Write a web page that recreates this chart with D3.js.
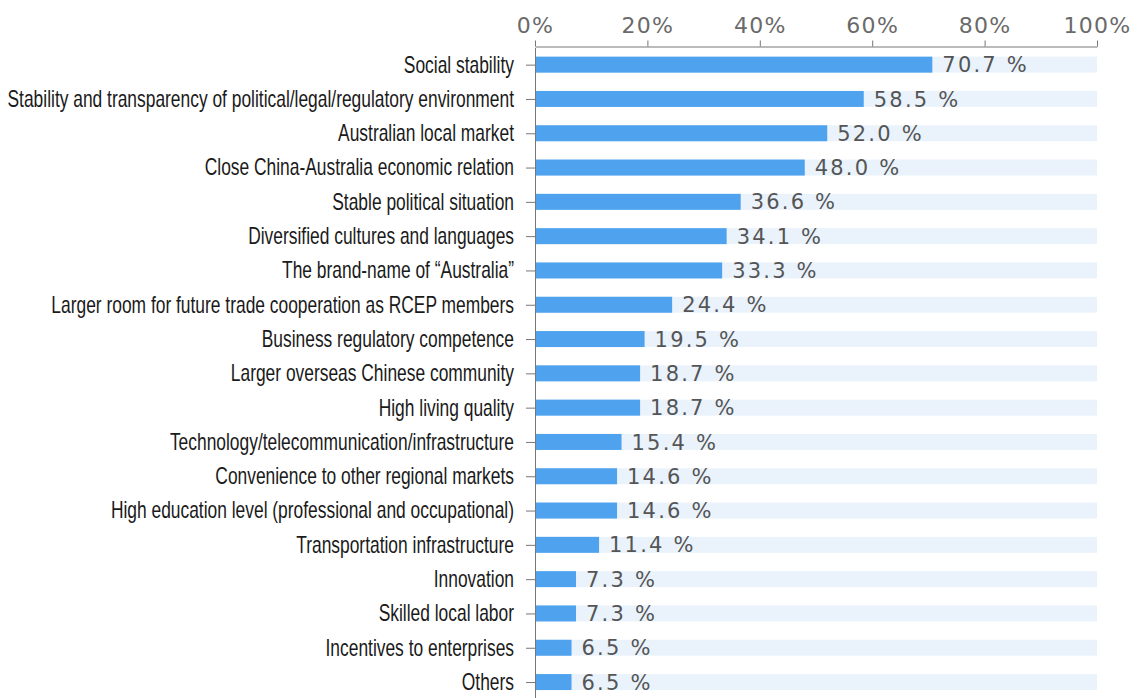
<!DOCTYPE html>
<html lang="en">
<head>
<meta charset="UTF-8">
<title>Factors</title>
<script src="https://d3js.org/d3.v7.min.js"></script>
<style>
  body { margin: 0; background: #fff; }
</style>
</head>
<body>
<div id="chart"></div>
<script>
const categories = [
  "Social stability",
  "Stability and transparency of political/legal/regulatory environment",
  "Australian local market",
  "Close China-Australia economic relation",
  "Stable political situation",
  "Diversified cultures and languages",
  "The brand-name of \u201cAustralia\u201d",
  "Larger room for future trade cooperation as RCEP members",
  "Business regulatory competence",
  "Larger overseas Chinese community",
  "High living quality",
  "Technology/telecommunication/infrastructure",
  "Convenience to other regional markets",
  "High education level (professional and occupational)",
  "Transportation infrastructure",
  "Innovation",
  "Skilled local labor",
  "Incentives to enterprises",
  "Others"
];
const values = [70.7, 58.5, 52.0, 48.0, 36.6, 34.1, 33.3, 24.4, 19.5, 18.7, 18.7, 15.4, 14.6, 14.6, 11.4, 7.3, 7.3, 6.5, 6.5];
const xTicks = [0, 20, 40, 60, 80, 100];

const width = 1143, height = 698;
const data = categories.map((c, i) => ({ name: c, value: values[i] }));

const x = d3.scaleLinear().domain([0, 100]).range([535, 1097]);
const y = d3.scalePoint().domain(categories).range([47.5, 699.2]).padding(0.5);
const barH = 16;

const svg = d3.select("#chart").append("svg")
  .attr("width", width)
  .attr("height", height);

// background tracks
svg.append("g").attr("fill", "#eaf3fc")
  .selectAll("rect").data(data).enter().append("rect")
  .attr("x", x(0))
  .attr("y", d => y(d.name) - barH / 2)
  .attr("width", x(100) - x(0))
  .attr("height", barH);

// bars
svg.append("g").attr("fill", "#4fa3ee")
  .selectAll("rect").data(data).enter().append("rect")
  .attr("x", x(0))
  .attr("y", d => y(d.name) - barH / 2)
  .attr("width", d => x(d.value) - x(0))
  .attr("height", barH);

// value labels
svg.append("g")
  .attr("font-family", "DejaVu Sans, sans-serif")
  .attr("font-size", 21)
  .attr("letter-spacing", 2.2)
  .attr("fill", "#555")
  .selectAll("text").data(data).enter().append("text")
  .attr("x", d => x(d.value) + 10)
  .attr("y", d => y(d.name))
  .attr("dy", "0.36em")
  .text(d => d.value.toFixed(1) + " %");

// top axis
const xAxis = svg.append("g")
  .attr("transform", "translate(0,46.5)")
  .call(d3.axisTop(x).tickValues(xTicks).tickFormat(d => d + "%").tickSize(6).tickSizeOuter(0));
xAxis.select(".domain").attr("stroke", "#777");
xAxis.selectAll(".tick line").attr("stroke", "#777");
xAxis.selectAll(".tick text")
  .attr("font-family", "DejaVu Sans, sans-serif")
  .attr("font-size", 22)
  .attr("letter-spacing", 1.3)
  .attr("fill", "#6a6a6a")
  .attr("y", -14);

// left axis
const yAxis = svg.append("g")
  .attr("transform", "translate(535,0)")
  .call(d3.axisLeft(y).tickSize(9).tickSizeOuter(0).tickPadding(20));
yAxis.select(".domain").attr("stroke", "#777");
yAxis.selectAll(".tick line").attr("stroke", "#777");
yAxis.selectAll(".tick text")
  .attr("font-family", "Liberation Sans, Arial, sans-serif")
  .attr("font-size", 23)
  .attr("fill", "#1a1a1a");

// labels are a condensed face in the original: squeeze them to fit
const longest = d3.max(yAxis.selectAll(".tick text").nodes(), n => n.getComputedTextLength());
const k = 507 / longest;
yAxis.selectAll(".tick text")
  .attr("x", null)
  .attr("transform", `translate(-21,0) scale(${k},1)`);
</script>
</body>
</html>
